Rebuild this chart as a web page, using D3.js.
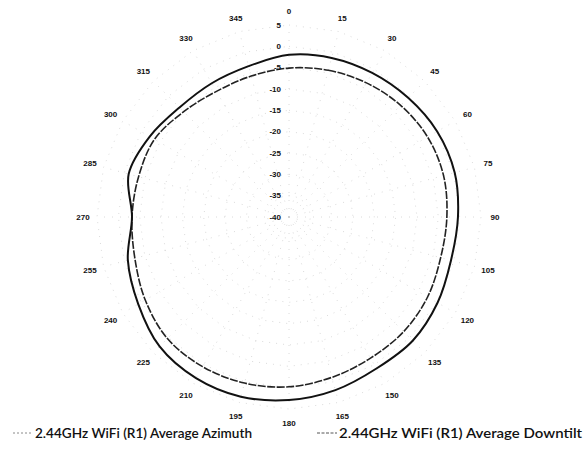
<!DOCTYPE html>
<html>
<head>
<meta charset="utf-8">
<script src="https://cdn.jsdelivr.net/npm/d3@7"></script>
<style>
  html, body { margin: 0; padding: 0; background: #fff; }
  svg { display: block; }
  .ang { font-family: "Liberation Sans", Arial, sans-serif; font-weight: bold; font-size: 8px; fill: #111; }
  .rad { font-family: "Liberation Sans", Arial, sans-serif; font-weight: bold; font-size: 8px; fill: #111; }
  .leg { font-family: "Lato", "Open Sans", sans-serif; font-weight: 600; font-size: 13.5px; fill: #111; }
</style>
</head>
<body>
<svg id="chart" width="584" height="459"></svg>
<script>
// Angle categories (degrees) around the polar plot
const angleLabels = [0, 15, 30, 45, 60, 75, 90, 105, 120, 135, 150, 165,
                     180, 195, 210, 225, 240, 255, 270, 285, 300, 315, 330, 345];
// Radial axis ticks (dB)
const radialTicks = [5, 0, -5, -10, -15, -20, -25, -30, -35, -40];

// Series values (dB) at each angle
const azimuthValues = [-2.0, -1.4, -1.0, -0.5, 0.1, 0.2, -0.4, -0.7, 0.2, 1.0, 1.0, 2.0,
                       2.9, 3.6, 3.6, 2.9, 0.8, -0.9, -3.2, -1.1, -2.3, -3.7, -3.8, -3.4];
const downtiltValues = [-5.1, -4.4, -3.7, -3.0, -2.5, -2.5, -3.0, -3.2, -2.5, -2.0, -1.8, -1.1,
                        -0.2, 0.3, 0.5, 0.3, -1.1, -2.6, -3.2, -3.5, -3.6, -5.1, -6.0, -5.8];

const seriesNames = ["2.44GHz WiFi (R1) Average Azimuth", "2.44GHz WiFi (R1) Average Downtilt"];

const svg = d3.select("#chart");
const cx = 289, cy = 217;
const rOuter = 192;
const r = d3.scaleLinear().domain([-40, 5]).range([0, rOuter]);
const toRad = d => d * Math.PI / 180;

const g = svg.append("g").attr("transform", `translate(${cx},${cy})`);

// Polygonal rings at each tick (faint dotted)
const ringLine = d3.lineRadial().angle(d => toRad(d)).curve(d3.curveLinearClosed);
radialTicks.filter(t => t > -40).forEach(t => {
  g.append("path")
    .attr("d", ringLine.radius(r(t))(angleLabels))
    .attr("fill", "none")
    .attr("stroke", "#d2d2d2")
    .attr("stroke-width", 0.8)
    .attr("stroke-dasharray", "1,6");
});

// Spokes
g.selectAll("line.spoke").data(angleLabels).enter().append("line")
  .attr("class", "spoke")
  .attr("x1", 0).attr("y1", 0)
  .attr("x2", d => r(5) * Math.sin(toRad(d)))
  .attr("y2", d => -r(5) * Math.cos(toRad(d)))
  .attr("stroke", "#d0d0d0")
  .attr("stroke-width", 0.8)
  .attr("stroke-dasharray", "1,7");

// Series curves
const curve = d3.lineRadial()
  .angle((d, i) => toRad(angleLabels[i]))
  .radius(d => r(d))
  .curve(d3.curveCatmullRomClosed.alpha(0.5));

g.append("path")
  .attr("d", curve(downtiltValues))
  .attr("fill", "none")
  .attr("stroke", "#222")
  .attr("stroke-width", 1.6)
  .attr("stroke-dasharray", "8,1.5");

g.append("path")
  .attr("d", curve(azimuthValues))
  .attr("fill", "none")
  .attr("stroke", "#111")
  .attr("stroke-width", 2);

// Radial tick labels along the 0° spoke
g.selectAll("text.rad").data(radialTicks).enter().append("text")
  .attr("class", "rad")
  .attr("x", -8)
  .attr("y", d => -r(d))
  .attr("dy", "0.35em")
  .attr("text-anchor", "end")
  .text(d => d);

// Angle labels
const rLab = 206;
g.selectAll("text.ang").data(angleLabels).enter().append("text")
  .attr("class", "ang")
  .attr("x", d => rLab * Math.sin(toRad(d)))
  .attr("y", d => -rLab * Math.cos(toRad(d)))
  .attr("dy", "0.35em")
  .attr("text-anchor", "middle")
  .text(d => d);

// Legend
const legend = [
  { x: 13, dash: "2,2", color: "#8a8a8a", textX: 35, width: 217 },
  { x: 317, dash: "3,1.5", color: "#555", textX: 339, width: 243 }
];
legend.forEach((L, i) => {
  svg.append("line")
    .attr("x1", L.x).attr("x2", L.x + 20)
    .attr("y1", 433).attr("y2", 433)
    .attr("stroke", L.color).attr("stroke-width", 1)
    .attr("stroke-dasharray", L.dash);
  svg.append("text")
    .attr("class", "leg")
    .attr("x", L.textX).attr("y", 438)
    .attr("textLength", L.width)
    .attr("lengthAdjust", "spacingAndGlyphs")
    .text(seriesNames[i]);
});
</script>
</body>
</html>
